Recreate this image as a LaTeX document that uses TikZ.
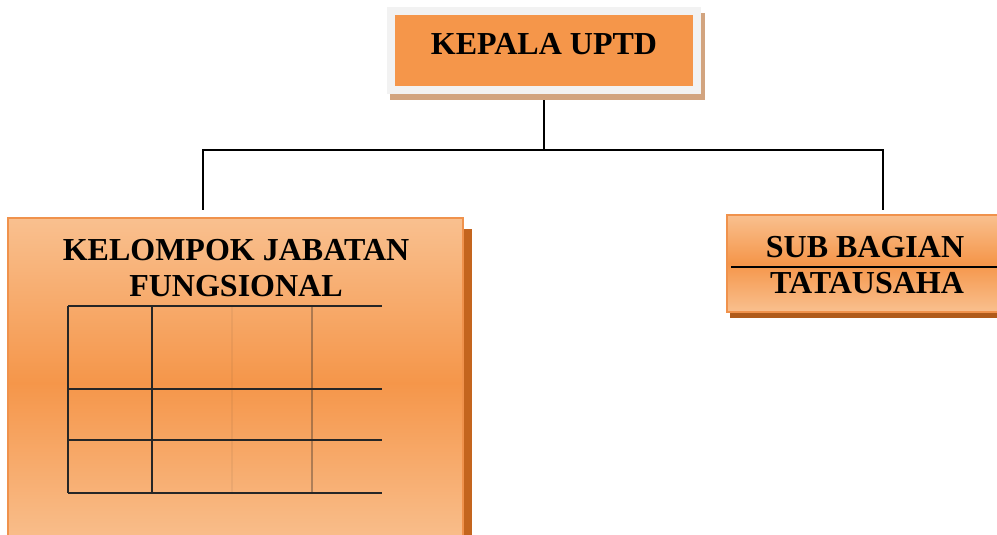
\documentclass[tikz,border=0pt]{standalone}
\usepackage{fontspec}
\setmainfont{Liberation Serif}
\usetikzlibrary{calc}
\definecolor{boxorange}{RGB}{245,150,74}
\definecolor{boxpeach}{RGB}{249,192,143}
\definecolor{boxline}{RGB}{240,146,76}
\definecolor{framegray}{RGB}{242,242,242}
\definecolor{shadowtan}{RGB}{210,164,127}
\definecolor{shadowdark}{RGB}{196,101,30}

\begin{document}
\begin{tikzpicture}[x=0.5pt,y=-0.5pt,
  title/.style={font=\fontsize{16}{18}\selectfont\bfseries, align=center, inner sep=0pt},
  unitbox/.style={draw=boxline, line width=0.75pt, top color=boxpeach, bottom color=boxpeach, middle color=boxorange, inner sep=0pt},
  conn/.style={line width=1pt},
  grid/.style={line width=1.2pt, draw=black!85}]
\path[use as bounding box, clip] (0,0) rectangle (997,535);

% connectors first, boxes on top
\coordinate (kjfin) at (203,210);
\coordinate (sbtin) at (883,210);
\coordinate (kepalaout) at (544,94);
\draw[conn] (kepalaout) -- ++(0,56) -| (kjfin);
\draw[conn] (kepalaout) ++(0,56) -| (sbtin);

% kepala
\node (kepala) [title, draw=framegray, line width=4pt, fill=boxorange,
  minimum width=153pt, minimum height=39.5pt, text depth=6.5pt] at (544,50.5) {KEPALA UPTD};
\fill[shadowtan] ($(kepala.north east)+(0,6)$) rectangle ($(kepala.south east)+(4,6)$);
\fill[shadowtan] ($(kepala.south west)+(3,0)$) rectangle ($(kepala.south east)+(4,6)$);

% kelompok jabatan fungsional
\node (kjf) [unitbox, minimum width=227.5pt, minimum height=165pt] at (235.5,383) {};
\fill[shadowdark] ($(kjf.north east)+(0,12)$) rectangle ($(kjf.south east)+(8,0)$);
\node (kjftitle) [title] at (236,268) {KELOMPOK JABATAN\\FUNGSIONAL};
\foreach \y in {306,389,440,493}
  \draw[grid] (68,\y) -- (382,\y);
\foreach \x in {68,152}
  \draw[grid] (\x,306) -- (\x,493);
\draw[grid, draw opacity=0.06] (232,306) -- (232,493);
\draw[grid, draw opacity=0.35] (312,306) -- (312,493);

% sub bagian tatausaha
\fill[shadowdark!90!black] (730,312) rectangle (1010,318);
\node (sbt) [unitbox, minimum width=141.5pt, minimum height=48.5pt] at (868.5,263.5) {};
\draw[line width=1pt] ([xshift=2.5pt,yshift=-1.75pt]sbt.west) -- ([yshift=-1.75pt]sbt.east);
\node (sbtop) [title] at (865,247) {SUB BAGIAN};
\node (sbbot) [title] at (867,283) {TATAUSAHA};
\end{tikzpicture}
\end{document}
